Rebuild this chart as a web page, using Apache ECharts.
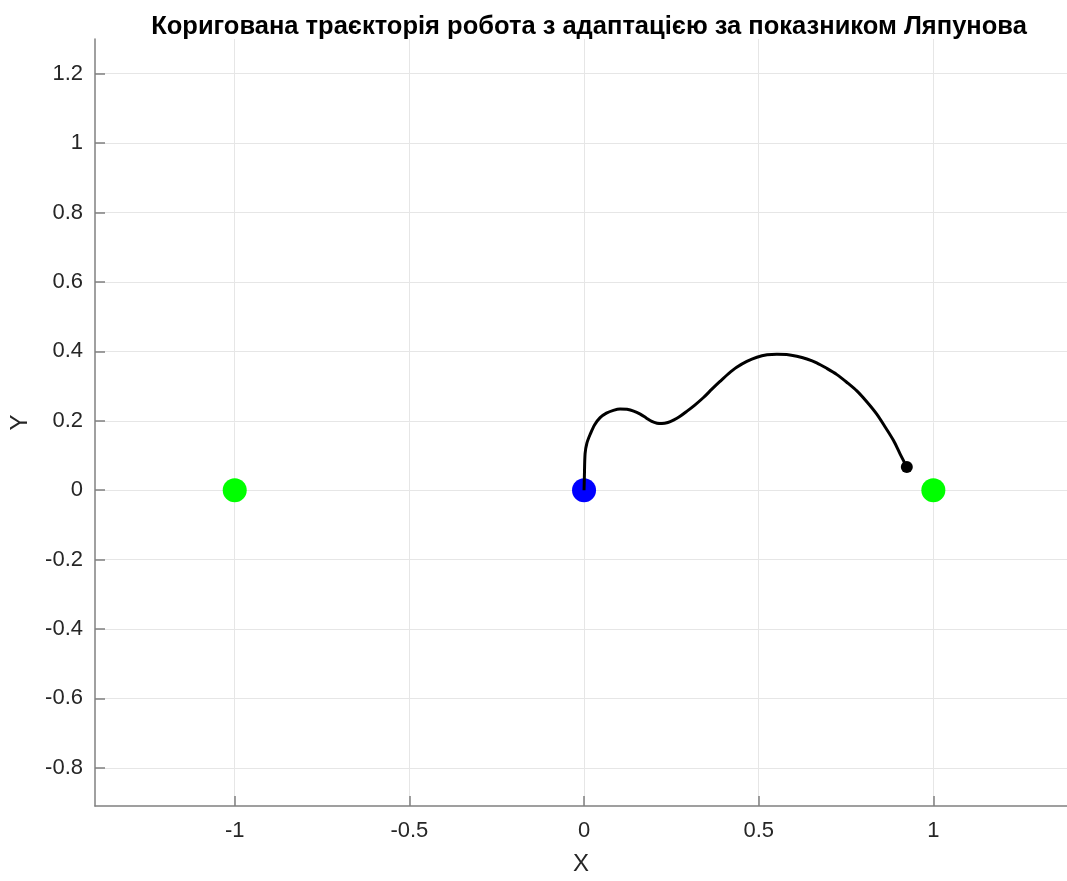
<!DOCTYPE html>
<html>
<head>
<meta charset="utf-8">
<script src="https://cdn.jsdelivr.net/npm/echarts@6/dist/echarts.min.js"></script>
<style>html,body{margin:0;padding:0;background:#fff;overflow:hidden}#c{width:1067px;height:881px}</style>
</head>
<body>
<div id="c"></div>
<script>
var titleText = 'Коригована траєкторія робота з адаптацією за показником Ляпунова';
var xTicks = [-1, -0.5, 0, 0.5, 1];
var yTicks = [-0.8, -0.6, -0.4, -0.2, 0, 0.2, 0.4, 0.6, 0.8, 1, 1.2];
var trajX = [0, 0.001, 0.003, 0.008, 0.018, 0.030, 0.046, 0.064, 0.084, 0.103, 0.123, 0.142, 0.161, 0.178, 0.194, 0.209, 0.223, 0.240, 0.256, 0.275, 0.294, 0.318, 0.342, 0.366, 0.390, 0.413, 0.437, 0.466, 0.495, 0.524, 0.552, 0.580, 0.609, 0.638, 0.666, 0.695, 0.724, 0.752, 0.781, 0.810, 0.838, 0.862, 0.886, 0.905, 0.924];
var trajY = [0, 0.040, 0.105, 0.135, 0.162, 0.188, 0.209, 0.222, 0.230, 0.234, 0.233, 0.228, 0.219, 0.208, 0.198, 0.193, 0.192, 0.195, 0.202, 0.213, 0.227, 0.246, 0.267, 0.291, 0.314, 0.335, 0.354, 0.371, 0.383, 0.390, 0.392, 0.391, 0.386, 0.378, 0.367, 0.351, 0.333, 0.311, 0.286, 0.254, 0.219, 0.182, 0.143, 0.104, 0.067];
var startPt = [0, 0];
var endPt = [0.924, 0.067];
var goalPts = [[-1, 0], [1, 0]];

var lineData = trajX.map(function (x, i) { return [x, trajY[i]]; });
var chart = echarts.init(document.getElementById('c'), null, {renderer: 'canvas', width: 1067, height: 881});
var FF = 'Liberation Sans, Arial, sans-serif';
var axisCommon = {
  type: 'value',
  axisLine: {show: true, onZero: false, lineStyle: {color: '#808080', width: 1.5}},
  axisTick: {show: true, inside: true, length: 10, lineStyle: {color: '#808080', width: 1.5}},
  splitLine: {show: true, lineStyle: {color: '#e6e6e6', width: 1}},
  axisLabel: {color: '#262626', fontSize: 22, fontFamily: FF},
  nameTextStyle: {color: '#262626', fontSize: 24, fontFamily: FF}
};
chart.setOption({
  animation: false,
  backgroundColor: '#ffffff',
  title: {
    text: titleText, left: 584, top: 9, textAlign: 'center',
    textStyle: {fontSize: 25.5, fontWeight: 'bold', color: '#000', fontFamily: FF}
  },
  grid: {left: 95, top: 39, width: 972, height: 773, containLabel: false},
  xAxis: Object.assign({}, axisCommon, {
    min: -1.4, max: 1.3826,
    name: 'X', nameLocation: 'middle', nameGap: 46,
    axisTick: Object.assign({}, axisCommon.axisTick, {customValues: xTicks}),
    axisLabel: Object.assign({}, axisCommon.axisLabel, {customValues: xTicks, margin: 14})
  }),
  yAxis: Object.assign({}, axisCommon, {
    min: -0.91, max: 1.3,
    name: 'Y', nameLocation: 'middle', nameGap: 63, nameRotate: 90,
    axisTick: Object.assign({}, axisCommon.axisTick, {customValues: yTicks}),
    axisLabel: Object.assign({}, axisCommon.axisLabel, {customValues: yTicks, margin: 12})
  }),
  series: [
    {type: 'line', data: lineData, smooth: 0.3, showSymbol: false, symbol: 'none',
     lineStyle: {color: '#000', width: 3}, z: 3},
    {type: 'scatter', data: [startPt], symbolSize: 24, itemStyle: {color: '#0000ff', opacity: 1}, z: 2},
    {type: 'scatter', data: goalPts, symbolSize: 24, itemStyle: {color: '#00ff00', opacity: 1}, z: 2},
    {type: 'scatter', data: [endPt], symbolSize: 12, itemStyle: {color: '#000', opacity: 1}, z: 4}
  ]
});
</script>
</body>
</html>
